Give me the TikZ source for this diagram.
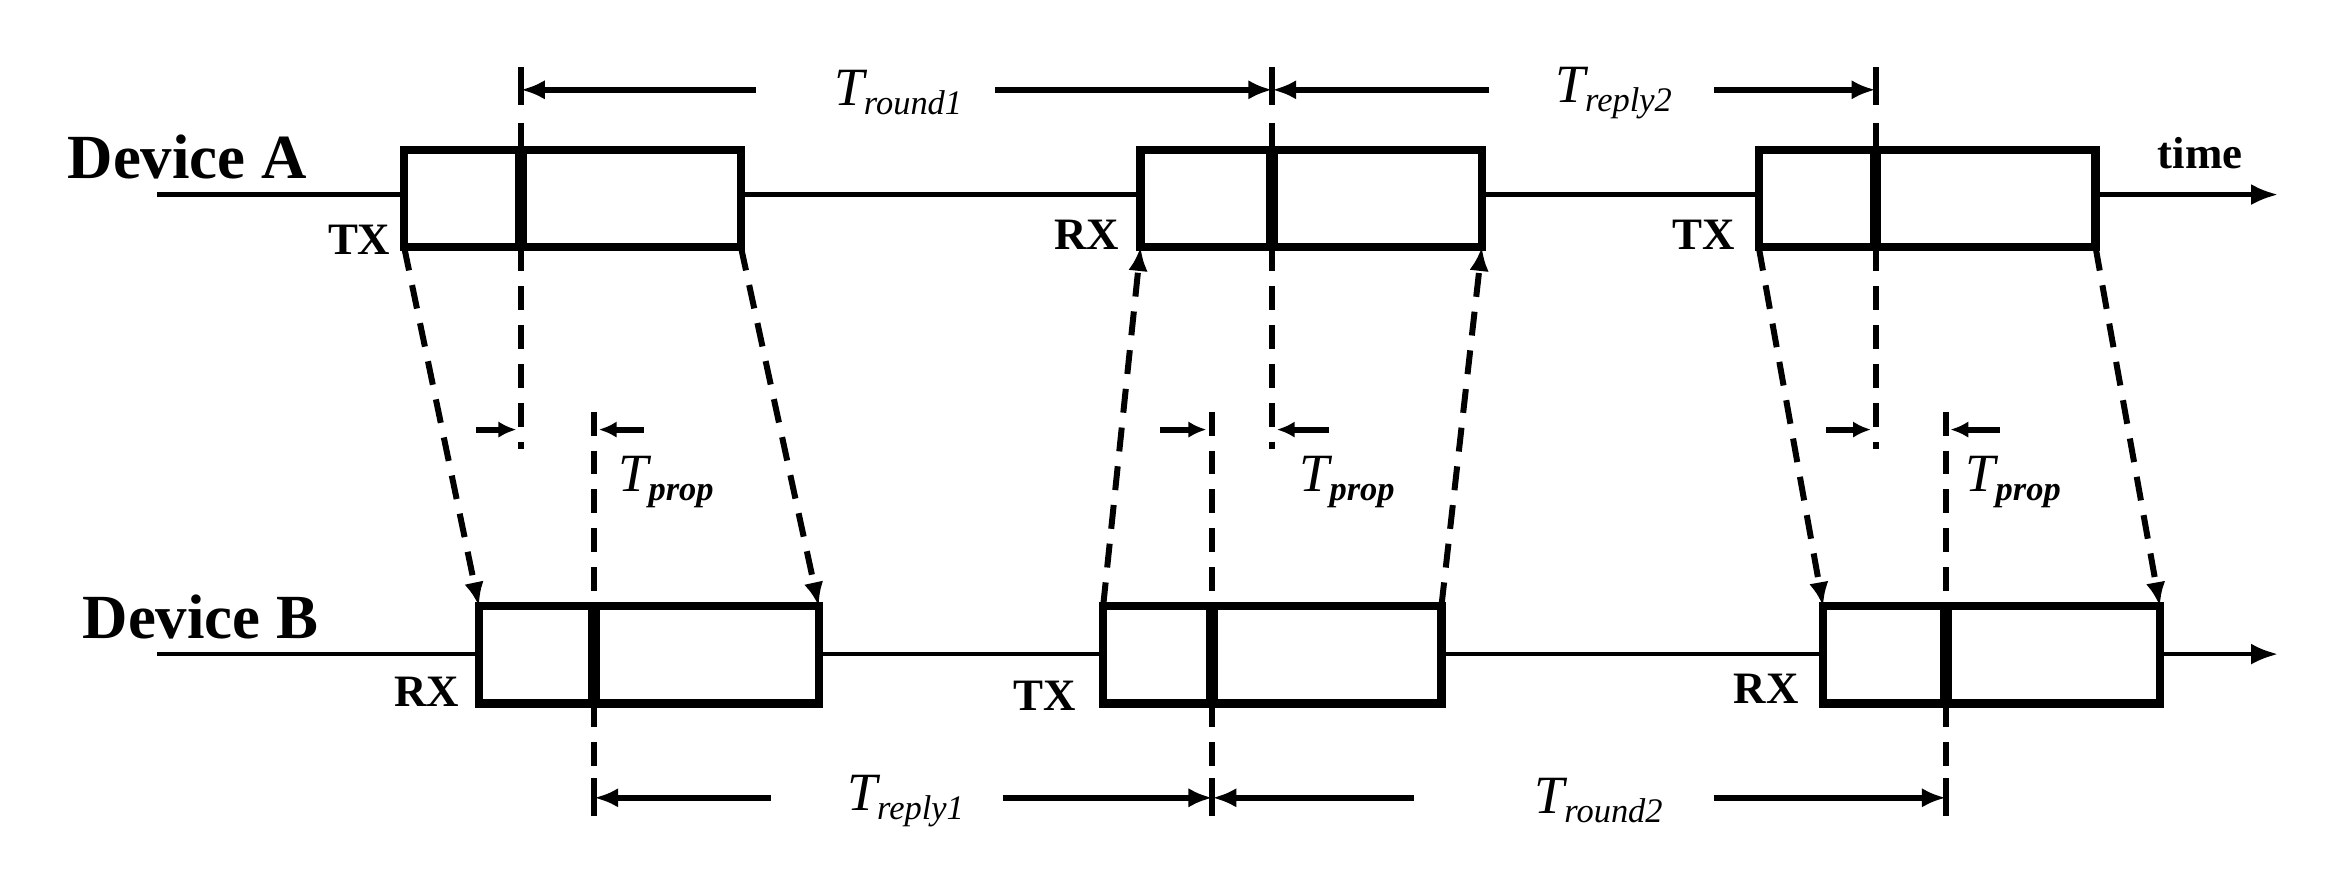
\documentclass[tikz,border=0pt]{standalone}
\usepackage{fontspec}
\setmainfont{Liberation Serif}
\usetikzlibrary{arrows.meta}
\begin{document}
\begin{tikzpicture}[x=1pt,y=-1pt,
  box/.style={line width=5.5pt},
  div/.style={line width=8pt},
  axis/.style={line width=3pt},
  dsh/.style={line width=4pt,dash pattern=on 16pt off 10pt},
  tip/.style={-{Latex[length=16pt,width=13pt]}},
  dim/.style={line width=4pt},
  lab/.style={font=\fontsize{30}{30}\selectfont\bfseries,inner sep=0},
  dev/.style={font=\fontsize{42}{42}\selectfont\bfseries,inner sep=0},
  tl/.style={font=\fontsize{36}{36}\selectfont\itshape,inner sep=0}]
\useasboundingbox (0,0) rectangle (1560,598);
% axes
\coordinate (a0) at (105,130); \coordinate (a1) at (1522,130);
\coordinate (b0) at (105,437); \coordinate (b1) at (1522,437);
\draw[axis,-{Latex[length=18pt,width=14pt]}] (a0) -- (a1);
\draw[axis,-{Latex[length=18pt,width=14pt]}] (b0) -- (b1);
% boxes A
\foreach \n/\l/\d/\r in {1/270/348/495, 2/762/850/990, 3/1175/1253/1400}{
  \draw[box,fill=white] (\l,100) rectangle (\r,165);
  \draw[div] (\d,100) -- (\d,165);
  \coordinate (A\n bl) at (\l,165); \coordinate (A\n br) at (\r,165);
}
% boxes B
\foreach \n/\l/\d/\r in {1/320/397/547, 2/737/810/963, 3/1218/1300/1443}{
  \draw[box,fill=white] (\l,405) rectangle (\r,470);
  \draw[div] (\d,405) -- (\d,470);
  \coordinate (B\n tl) at (\l,405); \coordinate (B\n tr) at (\r,405);
}
% slanted dashed arrows
\draw[dsh,tip] (A1bl) -- (B1tl);
\draw[dsh,tip] (A1br) -- (B1tr);
\draw[dsh,tip] (B2tl) -- (A2bl);
\draw[dsh,tip] (B2tr) -- (A2br);
\draw[dsh,tip] (A3bl) -- (B3tl);
\draw[dsh,tip] (A3br) -- (B3tr);
% vertical extension lines
\foreach \x in {348,850,1253}{
  \draw[line width=4pt] (\x,45) -- (\x,70);
  \draw[dsh] (\x,165) -- (\x,300);
  \draw[dsh] (\x,82) -- (\x,100);
}
\foreach \x in {397,810,1300}{
  \draw[dsh] (\x,275) -- (\x,405);
  \draw[dsh] (\x,470) -- (\x,520);
  \draw[line width=4pt] (\x,520) -- (\x,545);
}
% top dimensions
\node[tl] (tr1) at (600,62) {T\raisebox{-0.35ex}{\fontsize{23}{23}\selectfont round1}};
\node[tl] (tp2) at (1078,62) {T\raisebox{-0.35ex}{\fontsize{23}{23}\selectfont reply2}};
\coordinate (u1) at (348,60); \coordinate (u2) at (850,60); \coordinate (u3) at (1253,60);
\draw[dim,tip] (505,60) -- (u1);
\draw[dim,tip] (665,60) -- (u2);
\draw[dim,tip] (995,60) -- (u2);
\draw[dim,tip] (1145,60) -- (u3);
% bottom dimensions
\node[tl] (rp1) at (605,535) {T\raisebox{-0.35ex}{\fontsize{23}{23}\selectfont reply1}};
\node[tl] (ro2) at (1068,535) {T\raisebox{-0.35ex}{\fontsize{23}{23}\selectfont round2}};
\coordinate (d1) at (397,533); \coordinate (d2) at (810,533); \coordinate (d3) at (1300,533);
\draw[dim,tip] (515,533) -- (d1);
\draw[dim,tip] (670,533) -- (d2);
\draw[dim,tip] (945,533) -- (d2);
\draw[dim,tip] (1145,533) -- (d3);
% Tprop arrows
\foreach \a/\b/\c/\d/\lx in {318/345/430/400/445, 775/806/888/853/900, 1220/1250/1336/1303/1345}{
  \draw[dim,-{Latex[length=12pt,width=11pt]}] (\a,287) -- (\b,287);
  \draw[dim,-{Latex[length=12pt,width=11pt]}] (\c,287) -- (\d,287);
  \node[tl] at (\lx,322) {T\raisebox{-0.35ex}{\fontsize{23}{23}\selectfont\bfseries prop}};
}
% labels
\node[dev,anchor=west] (devA) at (45,105) {Device A};
\node[dev,anchor=west] (devB) at (55,412) {Device B};
\node[lab] (t1) at (240,160) {TX};
\node[lab] (r1) at (726,157) {RX};
\node[lab] (t2) at (1138,157) {TX};
\node[lab] (tm) at (1470,102) {time};
\node[lab] (r2) at (285,462) {RX};
\node[lab] (t3) at (698,465) {TX};
\node[lab] (r3) at (1180,460) {RX};
\end{tikzpicture}
\end{document}
